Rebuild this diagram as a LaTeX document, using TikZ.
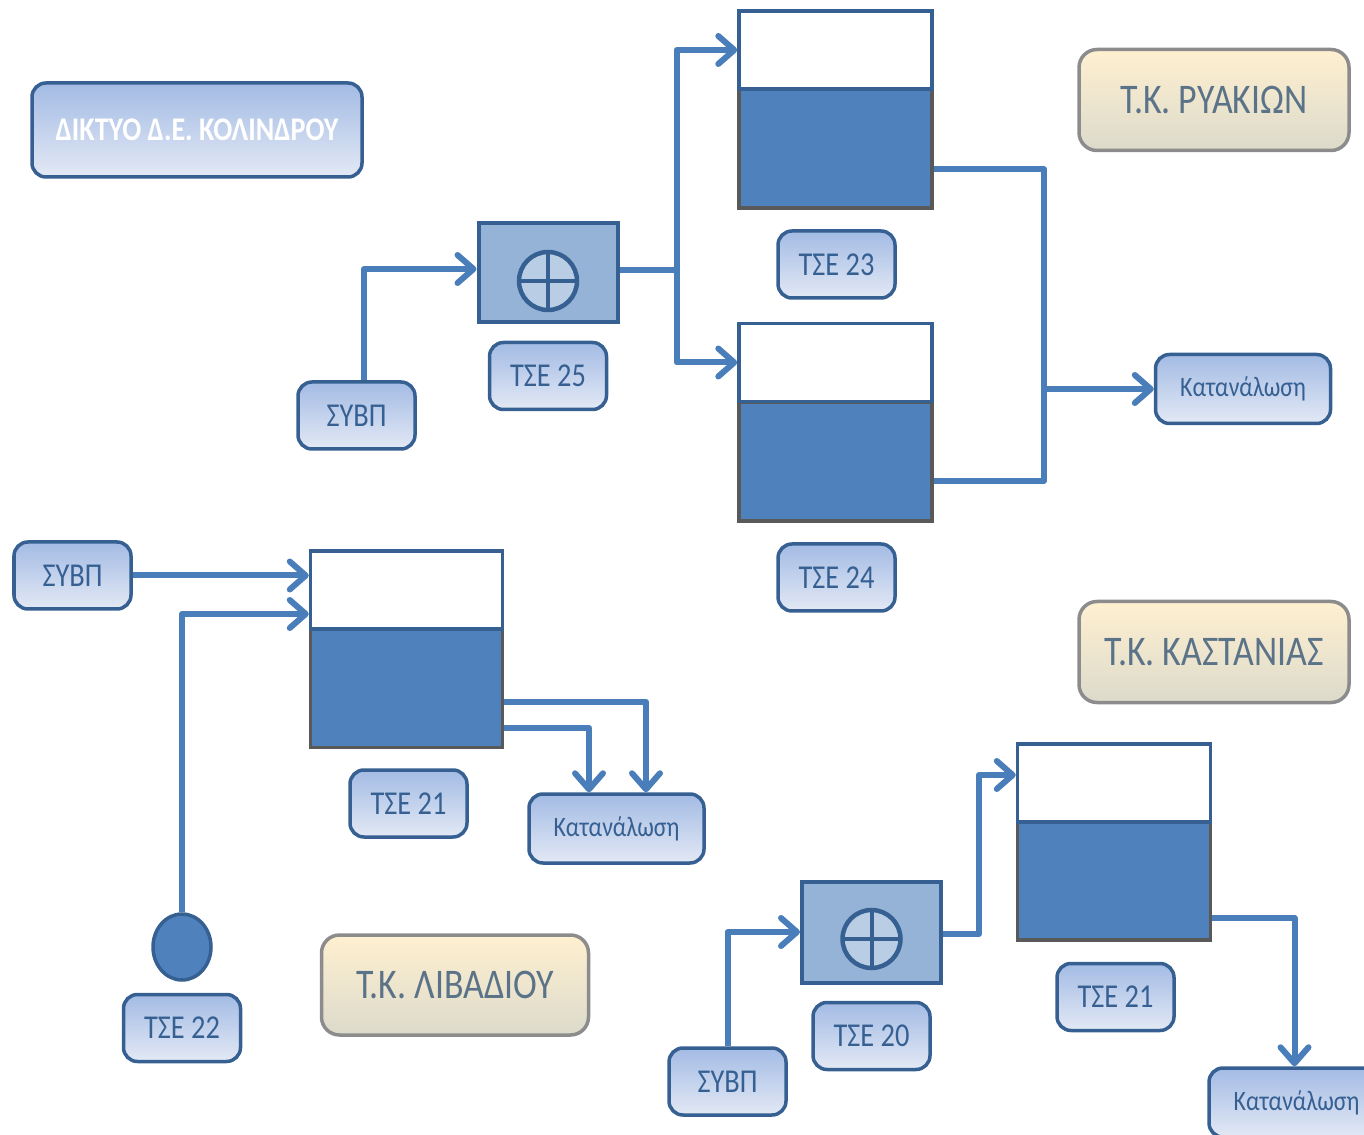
\documentclass[tikz,border=0pt]{standalone}
\usepackage{fontspec}
\usepackage{tikz}
\usepackage{xcolor}
\usetikzlibrary{positioning, arrows.meta, shapes.geometric}
\newfontfamily\tagfont[FakeStretch=0.85]{Carlito}
\definecolor{linkblue}{HTML}{4A7EBB}
\definecolor{edgeblue}{HTML}{366092}
\definecolor{waterblue}{HTML}{4F81BD}
\definecolor{pumpblue}{HTML}{95B3D7}
\definecolor{dialblue}{HTML}{B9CDE5}
\definecolor{tagtop}{HTML}{A3BBE4}
\definecolor{tagbottom}{HTML}{E3E9F5}
\definecolor{areatop}{HTML}{FFF0D0}
\definecolor{areabottom}{HTML}{DCDACB}
\definecolor{areatext}{HTML}{5B7388}

\begin{document}
\begin{tikzpicture}[on grid, semithick,
    tagbox/.style={draw=edgeblue, line width=0.07cm, rounded corners=0.28cm, top color=tagtop, bottom color=tagbottom,
      minimum width=2.34cm, minimum height=1.34cm, inner sep=0pt, text=edgeblue, font=\tagfont\fontsize{19}{22}\selectfont},
    usebox/.style={tagbox, minimum width=3.5cm, minimum height=1.38cm, font=\tagfont\fontsize{16}{19}\selectfont},
    areabox/.style={draw=black!45, line width=0.07cm, rounded corners=0.36cm, top color=areatop, bottom color=areabottom,
      minimum width=5.4cm, minimum height=2.02cm, inner sep=0pt, text=areatext, font=\tagfont\fontsize{24}{27}\selectfont},
    headbox/.style={tagbox, minimum width=6.6cm, minimum height=1.88cm, text=white, font=\tagfont\bfseries\fontsize{18.8}{22}\selectfont},
    tanktop/.style={draw=edgeblue, line width=0.07cm, fill=white, minimum width=3.86cm, minimum height=1.56cm, inner sep=0pt},
    water/.style={draw=black!65, line width=0.07cm, fill=waterblue, minimum width=3.86cm, minimum height=2.38cm, inner sep=0pt},
    pump/.style={draw=edgeblue, line width=0.08cm, fill=pumpblue, minimum width=2.78cm, minimum height=1.98cm, inner sep=0pt},
    dial/.style={circle, draw=edgeblue, line width=0.09cm, fill=dialblue, minimum size=1.16cm, inner sep=0pt,
      path picture={\draw[edgeblue, line width=0.08cm] (path picture bounding box.north) -- (path picture bounding box.south)
        (path picture bounding box.west) -- (path picture bounding box.east);}},
    well/.style={ellipse, draw=edgeblue, line width=0.07cm, fill=waterblue, minimum width=1.16cm, minimum height=1.32cm, inner sep=0pt},
    pipe/.style={draw=linkblue, line width=0.12cm, line join=round},
    flow/.style={pipe, -{Straight Barb[round, length=0.32cm, width=0.56cm, line width=0.12cm]}}]
    \useasboundingbox (0,0) rectangle (27.28,22.68);
    \clip (0,0) rectangle (27.28,22.68);

    % upper group
    \node[headbox] (head) at (3.94,20.08) {ΔΙΚΤΥΟ Δ.Ε. ΚΟΛΙΝΔΡΟΥ};
    \node[tagbox] (syvpa) at (7.13,14.37) {ΣΥΒΠ};
    \node[pump, above right= 2.86cm and 3.83cm of syvpa] (pump25) {};
    \node[dial, below=0.17cm of pump25] (dial25) {};
    \node[tagbox, below=2.07cm of pump25] (tse25) {ΤΣΕ 25};
    \node[water, above right= 2.48cm and 5.75cm of pump25] (water23) {};
    \node[tanktop, above=1.97cm of water23] (top23) {};
    \node[tagbox, below right= 2.32cm and 0.02cm of water23] (tse23) {ΤΣΕ 23};
    \node[water, below=6.26cm of water23] (water24) {};
    \node[tanktop, above=1.98cm of water24] (top24) {};
    \node[tagbox, below right= 2.32cm and 0.02cm of water24] (tse24) {ΤΣΕ 24};
    \node[usebox, above right= 1.45cm and 8.15cm of water24] (usea) {Κατανάλωση};
    \node[areabox, below right= 1cm and 7.57cm of top23] (ryakia) {Τ.Κ. ΡΥΑΚΙΩΝ};
    \node[areabox, below=11.04cm of ryakia] (kastania) {Τ.Κ. ΚΑΣΤΑΝΙΑΣ};

    % left group
    \node[tagbox] (syvpb) at (1.45,11.17) {ΣΥΒΠ};
    \node[water, below right= 2.25cm and 6.68cm of syvpb, minimum width=3.84cm] (water21) {};
    \node[tanktop, above=1.96cm of water21, minimum width=3.84cm] (top21) {};
    \node[tagbox, below right= 2.31cm and 0.04cm of water21] (tse21) {ΤΣΕ 21};
    \node[usebox, below right= 0.5cm and 4.16cm of tse21] (useb) {Κατανάλωση};
    \node[well, below right= 7.43cm and 2.19cm of syvpb] (well22) {};
    \node[tagbox, below=1.62cm of well22] (tse22) {ΤΣΕ 22};
    \node[areabox, below right= 0.76cm and 5.46cm of well22, minimum width=5.34cm, minimum height=2cm] (livadi) {Τ.Κ. ΛΙΒΑΔΙΟΥ};

    % lower group
    \node[tagbox] (syvpc) at (14.55,1.05) {ΣΥΒΠ};
    \node[pump, above right= 2.99cm and 2.88cm of syvpc, minimum height=2.02cm] (pump20) {};
    \node[dial, below=0.14cm of pump20] (dial20) {};
    \node[tagbox, below=2.08cm of pump20] (tse20) {ΤΣΕ 20};
    \node[water, above right= 1.03cm and 4.85cm of pump20] (water21c) {};
    \node[tanktop, above=1.95cm of water21c] (top21c) {};
    \node[tagbox, below right= 2.33cm and 0.03cm of water21c] (tse21c) {ΤΣΕ 21};
    \node[usebox, below right= 2.11cm and 3.62cm of tse21c] (usec) {Κατανάλωση};

    \coordinate (splita) at ([xshift=1.14cm, yshift=0.04cm]pump25.east);
    \coordinate (mergea) at ([xshift=-2.26cm]usea.west);

    \draw[flow] ([xshift=0.15cm]syvpa.north) |- ([yshift=0.07cm]pump25.west);
    \draw[pipe] ([yshift=0.04cm]pump25.east) -- (splita);
    \draw[flow] (splita) |- (top23.west);
    \draw[flow] (splita) |- (top24.west);
    \draw[pipe] ([yshift=-0.41cm]water23.east) -- ++(2.2,0) |- ([yshift=-0.39cm]water24.east);
    \draw[flow] (mergea) -- (usea.west);

    \draw[flow] (syvpb.east) -- (syvpb.east -| top21.west);
    \draw[flow] (well22.north) |- ([yshift=-0.48cm]top21.west);
    \draw[flow] ([yshift=-0.28cm]water21.east) -| ([xshift=0.59cm]useb.north);
    \draw[flow] ([yshift=-0.8cm]water21.east) -| ([xshift=-0.55cm]useb.north);

    \draw[flow] (syvpc.north) |- (pump20.west);
    \draw[flow] ([yshift=-0.04cm]pump20.east) -- ++(0.72,0) |- ([yshift=0.16cm]top21c.west);
    \draw[flow] ([yshift=-0.75cm]water21c.east) -| ([xshift=-0.04cm]usec.north);
  \end{tikzpicture}
\end{document}
